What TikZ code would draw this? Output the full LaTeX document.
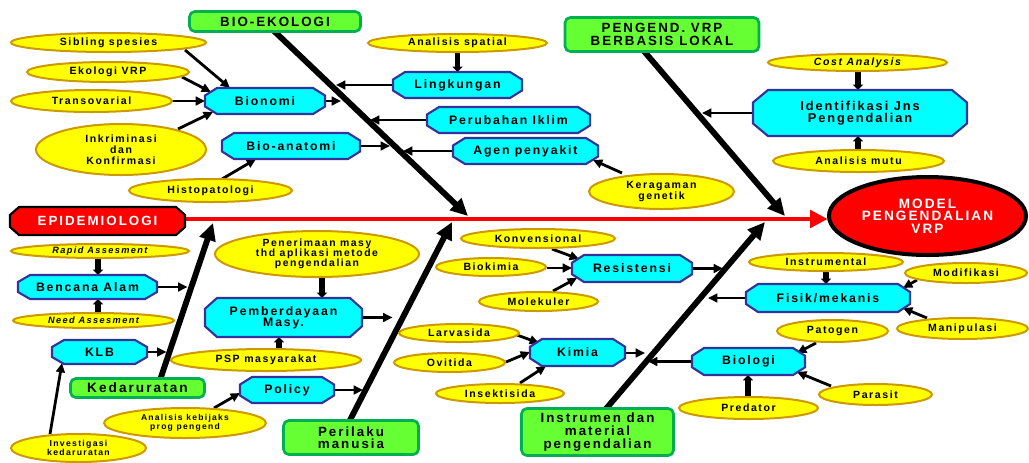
\documentclass[tikz,border=0pt]{standalone}
\usepackage{fontspec}
\setmainfont{Liberation Sans}[LetterSpace=15]
\usetikzlibrary{shapes.geometric,arrows.meta,calc}
\pgfdeclarelayer{bg}
\pgfsetlayers{bg,main}
\definecolor{yfill}{HTML}{FFFF00}
\definecolor{yline}{HTML}{CC9900}
\definecolor{cfill}{HTML}{00FFFF}
\definecolor{cline}{HTML}{333399}
\definecolor{gfill}{HTML}{66FF33}
\definecolor{gline}{HTML}{00B050}
\definecolor{rfill}{HTML}{FF0000}
\def\PX{0.75pt}
\newcommand\tightls{\lineskiplimit=-10pt\relax}
\tikzset{
 ybox/.style={ellipse, draw=yline, fill=yfill, line width=1.5pt, inner sep=0pt, outer sep=0pt, align=center,
   font={\fontsize{7.9}{8.3}\selectfont\bfseries\tightls}},
 gbox/.style={rectangle, rounded corners=4pt, draw=gline, fill=gfill, line width=2pt, inner sep=0pt, align=center,
   font={\fontsize{10}{9.3}\selectfont\bfseries\tightls}},
 cyanoct/.style={draw=cline, fill=cfill, line width=1.6pt},
 redoct/.style={draw=black, fill=rfill, line width=1.6pt},
 octtext/.style={rectangle, inner sep=0pt, outer sep=0pt, align=center,
   font={\fontsize{9.2}{8}\selectfont\bfseries\tightls}},
 arr/.style={line width=2.1pt, -{Triangle[length=7pt,width=6.5pt]}},
 fat/.style={line width=4.2pt, -{Triangle[length=4pt,width=7.5pt]}},
 spine/.style={line width=4.4pt, -{Triangle[length=13pt,width=12pt]}},
 redarr/.style={draw=rfill, line width=3pt, -{Triangle[length=13pt,width=13pt]}},
}
\newcommand\octa[9][]{%
  \pgfmathsetmacro\octL{#4-#6/2}%
  \pgfmathsetmacro\octR{#4+#6/2}%
  \pgfmathsetmacro\octT{#5-#7/2}%
  \pgfmathsetmacro\octB{#5+#7/2}%
  \pgfmathsetmacro\octD{#7/4+1}%
  \pgfmathsetmacro\octLi{\octL+#8}%
  \pgfmathsetmacro\octRi{\octR-#8}%
  \pgfmathsetmacro\octTi{\octT+\octD}%
  \pgfmathsetmacro\octBi{\octB-\octD}%
  \path[#2] (\octLi,\octT) -- (\octRi,\octT) -- (\octR,\octTi) -- (\octR,\octBi) -- (\octRi,\octB) -- (\octLi,\octB) -- (\octL,\octBi) -- (\octL,\octTi) -- cycle;
  \node[octtext, minimum width=#6*\PX, minimum height=#7*\PX, #1] (#3) at (#4,#5) {#9};
}
\newcommand\yel[7][]{\node[ybox, minimum width=#5*\PX-1.5pt, minimum height=#6*\PX-1.5pt, #1] (#2) at (#3,#4) {#7};}
\begin{document}
\begin{tikzpicture}[x=0.75pt, y=-0.75pt]
\useasboundingbox (0,0) rectangle (1029,462);

% green category boxes
\node[gbox, minimum width=171*\PX, minimum height=20*\PX] (bioeko) at (275,21.5) {BIO-EKOLOGI};
\node[gbox, minimum width=194*\PX, minimum height=34*\PX] (pengend) at (662,34.5) {PENGEND. VRP\\BERBASIS LOKAL};
\node[gbox, minimum width=134*\PX, minimum height=19*\PX, font={\fontsize{10.2}{9}\selectfont\bfseries}] (kedar) at (137.5,388) {Kedaruratan};
\node[gbox, minimum width=135*\PX, minimum height=34*\PX, font={\fontsize{10}{9.25}\selectfont\bfseries\tightls}] (perilaku) at (351,437.5) {Perilaku\\manusia};
\node[gbox, minimum width=152*\PX, minimum height=47*\PX, font={\fontsize{10}{9.75}\selectfont\bfseries\tightls}] (instrumen) at (597.5,432) {Instrumen dan\\material\\pengendalian};

% head and tail
\octa[font={\fontsize{10}{10}\selectfont\bfseries}, text=white]{redoct}{epid}{97.5}{221}{175}{28}{9}{EPIDEMIOLOGI}
\node[ellipse, draw=black, line width=3pt, fill=rfill, minimum width=197*\PX, minimum height=78*\PX, inner sep=0pt,
  text=white, align=center, font={\fontsize{10.2}{9.5}\selectfont\bfseries\tightls}] (model) at (927.5,216) {MODEL\\PENGENDALIAN\\VRP};

% cyan octagons
\octa{cyanoct}{bionomi}{265}{101}{120}{26}{12}{Bionomi}
\octa{cyanoct}{bioanat}{291}{146}{138}{26}{12}{Bio-anatomi}
\octa{cyanoct}{lingk}{457.5}{85}{129}{26}{12}{Lingkungan}
\octa{cyanoct}{iklim}{508.5}{120}{163}{26}{12}{Perubahan Iklim}
\octa{cyanoct}{agen}{525.5}{151}{145}{26}{12}{Agen penyakit}
\octa[font={\fontsize{9.6}{9}\selectfont\bfseries\tightls}]{cyanoct}{identif}{860}{113}{214}{46}{15}{Identifikasi Jns\\Pengendalian}
\octa{cyanoct}{bencana}{87.5}{287}{139}{24}{12}{Bencana Alam}
\octa{cyanoct}{klb}{99.5}{352}{95}{24}{12}{KLB}
\octa{cyanoct}{pemberd}{283.5}{317.5}{157}{39}{12}{Pemberdayaan\\Masy.}
\octa{cyanoct}{policy}{287}{390}{94}{26}{12}{Policy}
\octa{cyanoct}{resist}{632}{268.5}{120}{27}{12}{Resistensi}
\octa{cyanoct}{kimia}{577.5}{352.5}{95}{27}{12}{Kimia}
\octa{cyanoct}{fisik}{828}{298}{164}{28}{12}{Fisik/mekanis}
\octa{cyanoct}{biologi}{748.5}{361.5}{113}{27}{12}{Biologi}

% yellow ellipses
\yel{sibling}{108.5}{42.5}{197}{21}{Sibling spesies}
\yel{ekologi}{108}{72}{164}{22}{Ekologi VRP}
\yel{transov}{91.5}{101}{163}{24}{Transovarial}
\yel{inkrim}{121}{149.5}{172}{53}{Inkriminasi\\dan\\Konfirmasi}
\yel{histo}{210.5}{190.5}{165}{25}{Histopatologi}
\yel{spatial}{457.5}{43}{181}{20}{Analisis spatial}
\yel{keragaman}{661.5}{191.5}{147}{37}{Keragaman\\genetik}
\yel[font={\fontsize{7.9}{8}\selectfont\bfseries\itshape}]{cost}{857.5}{62.5}{181}{19}{Cost Analysis}
\yel{mutu}{858.5}{161}{173}{24}{Analisis mutu}
\yel[font={\fontsize{6.9}{7}\selectfont\bfseries\itshape}]{rapid}{100}{251}{180}{16}{Rapid Assesment}
\yel[font={\fontsize{6.9}{7}\selectfont\bfseries\itshape}]{need}{93.5}{320.5}{163}{17}{Need Assesment}
\yel[font={\fontsize{7.8}{7.7}\selectfont\bfseries\tightls}]{penerimaan}{317}{254}{206}{48}{Penerimaan masy\\thd aplikasi metode\\pengendalian}
\yel{psp}{266}{360}{192}{24}{PSP masyarakat}
\yel[font={\fontsize{6.4}{6.3}\selectfont\bfseries\tightls}]{kebijak}{185}{423}{164}{32}{Analisis kebijaks\\prog pengend}
\yel[font={\fontsize{6.5}{6.3}\selectfont\bfseries\tightls}]{investig}{78.5}{448}{137}{30}{Investigasi\\kedaruratan}
\yel{konv}{538}{238.5}{156}{21}{Konvensional}
\yel{biokim}{491}{267}{112}{20}{Biokimia}
\yel{molek}{538.5}{301.5}{121}{21}{Molekuler}
\yel{larva}{459}{333}{122}{20}{Larvasida}
\yel{ovit}{449.5}{362.5}{113}{21}{Ovitida}
\yel{insekt}{500}{393.5}{130}{21}{Insektisida}
\yel{instrumental}{826}{262}{156}{20}{Instrumental}
\yel{modif}{966}{273}{124}{22}{Modifikasi}
\yel{manip}{962.5}{328.5}{133}{23}{Manipulasi}
\yel{patogen}{832.5}{331}{113}{24}{Patogen}
\yel{predator}{748.5}{408}{141}{24}{Predator}
\yel{parasit}{875.5}{394.5}{115}{23}{Parasit}

\begin{pgfonlayer}{bg}
\fill[white] (0,0) rectangle (1029,462);
% main axis
\draw[redarr] ($(epid)+(87.5,-2)$) -- ($(model)+(-100,3)$);
% spines
\draw[spine] ($(bioeko)+(-2,8.5)$) -- ($(bioeko)+(193,194.5)$);
\draw[spine] ($(pengend)+(-19,15.5)$) -- ($(pengend)+(123,181.5)$);
\draw[spine] ($(kedar)+(22.5,-8)$) -- ($(kedar)+(75.5,-165)$);
\draw[spine] ($(perilaku)+(-2,-15.5)$) -- ($(perilaku)+(101,-215.5)$);
\draw[spine] ($(instrumen)+(7.5,-22)$) -- ($(instrumen)+(167.5,-210)$);
% bio-ekologi branch
\draw[arr] ($(sibling)+(76.5,7.5)$) -- ($(bionomi)+(-35,-13)$);
\draw[arr] ($(ekologi)+(74,5)$) -- ($(bionomi)+(-54,-9)$);
\draw[arr] ($(transov)+(80.5,0)$) -- ($(bionomi)+(-60,0)$);
\draw[arr] ($(inkrim)+(57,-20.5)$) -- ($(bionomi)+(-52,11)$);
\draw[arr] ($(histo)+(11.5,-11.5)$) -- ($(bioanat)+(-35,13)$);
\draw[arr] ($(bionomi)+(60,0)$) -- ($(bionomi)+(76,0)$);
\draw[arr] ($(lingk)+(-64.5,0)$) -- ($(lingk)+(-121.5,0)$);
\draw[fat] ($(spatial)+(0,9)$) -- ($(lingk)+(0,-13)$);
\draw[arr] ($(iklim)+(-81.5,0)$) -- ($(iklim)+(-138.5,0)$);
\draw[arr] ($(bioanat)+(68,0)$) -- ($(bioanat)+(99,0)$);
\draw[arr] ($(agen)+(-72.5,0)$) -- ($(agen)+(-122.5,0)$);
\draw[arr] ($(keragaman)+(-39.5,-18.5)$) -- ($(agen)+(67.5,9)$);
% pengendalian lokal branch
\draw[arr] ($(identif)+(-107,0)$) -- ($(identif)+(-158,0)$);
\draw[fat] ($(cost)+(0.5,8.5)$) -- ($(identif)+(-2,-23)$);
\draw[fat] ($(mutu)+(-0.5,-11)$) -- ($(identif)+(-2,23)$);
% kedaruratan branch
\draw[fat] ($(rapid)+(-2,7)$) -- ($(bencana)+(10.5,-12)$);
\draw[fat] ($(need)+(4.5,-8.5)$) -- ($(bencana)+(10.5,12)$);
\draw[arr] ($(bencana)+(69.5,0)$) -- ($(bencana)+(100,0)$);
\draw[arr] ($(klb)+(47.5,0)$) -- ($(klb)+(67,0)$);
\draw[arr] ($(investig)+(-28.5,-14)$) -- ($(klb)+(-37.5,11)$);
% perilaku branch
\draw[fat] ($(penerimaan)+(5,23)$) -- ($(pemberd)+(38.5,-19.5)$);
\draw[fat] ($(psp)+(13,-11)$) -- ($(pemberd)+(-4.5,19.5)$);
\draw[arr] ($(pemberd)+(78.5,0)$) -- ($(pemberd)+(109,0)$);
\draw[arr] ($(policy)+(47,0)$) -- ($(policy)+(76,0)$);
\draw[arr] ($(kebijak)+(29,-15)$) -- ($(policy)+(-47,3)$);
% instrumen branch
\draw[arr] ($(konv)+(14,10.5)$) -- ($(resist)+(-53,-9.5)$);
\draw[arr] ($(biokim)+(56,1)$) -- ($(resist)+(-60,-0.5)$);
\draw[arr] ($(molek)+(14.5,-10.5)$) -- ($(resist)+(-55,9.5)$);
\draw[arr] ($(resist)+(60,0)$) -- ($(resist)+(91,0)$);
\draw[arr] ($(larva)+(58,2)$) -- ($(kimia)+(-38.5,-9.5)$);
\draw[arr] ($(ovit)+(56.5,-0.5)$) -- ($(kimia)+(-47.5,-0.5)$);
\draw[arr] ($(insekt)+(20,-10.5)$) -- ($(kimia)+(-31.5,13.5)$);
\draw[arr] ($(kimia)+(47.5,0.5)$) -- ($(kimia)+(67.5,0.5)$);
\draw[arr] ($(biologi)+(-56.5,0)$) -- ($(biologi)+(-100.5,0)$);
\draw[arr] ($(fisik)+(-82,0)$) -- ($(fisik)+(-120,0)$);
\draw[fat] ($(instrumental)+(0,9)$) -- ($(fisik)+(-2,-14)$);
\draw[arr] ($(modif)+(-49,7)$) -- ($(fisik)+(75,-10)$);
\draw[arr] ($(manip)+(-35.5,-10.5)$) -- ($(fisik)+(75,10)$);
\draw[arr] ($(patogen)+(-16.5,12)$) -- ($(biologi)+(48.5,-8.5)$);
\draw[arr] ($(parasit)+(-44.5,-8.5)$) -- ($(biologi)+(48.5,10.5)$);
\draw[fat] ($(predator)+(-0.5,-11)$) -- ($(biologi)+(-0.5,13.5)$);
\end{pgfonlayer}
\end{tikzpicture}
\end{document}
